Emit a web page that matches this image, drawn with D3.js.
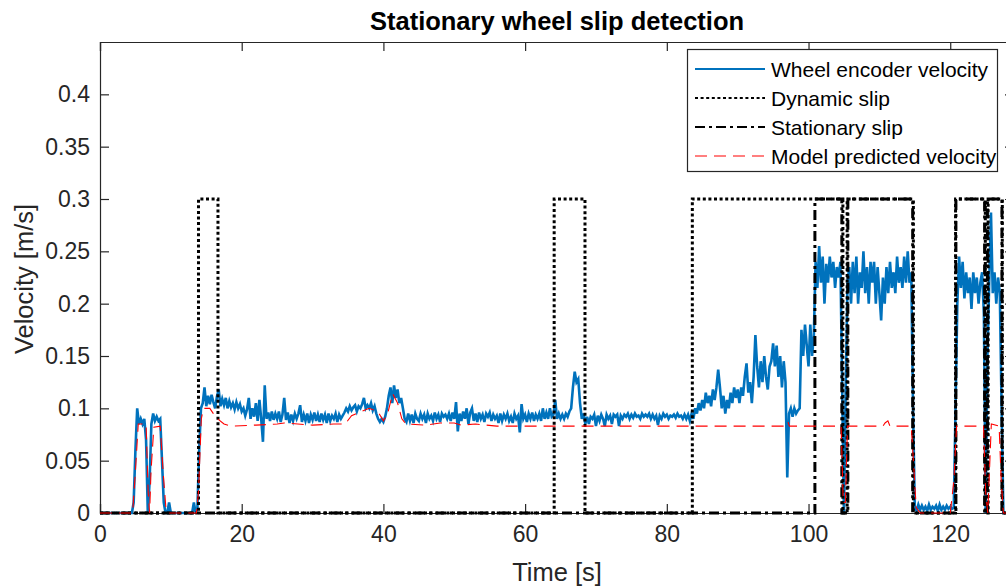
<!DOCTYPE html>
<html><head><meta charset="utf-8">
<script src="https://d3js.org/d3.v7.min.js"></script>
<style>
html,body{margin:0;padding:0;background:#fff;overflow:hidden}
text{font-family:"Liberation Sans",Arial,Helvetica,sans-serif;fill:#262626}
</style></head><body>
<svg id="chart" width="1006" height="586"></svg>
<script>
// ---------- data ----------
const title = "Stationary wheel slip detection";
const xLabel = "Time [s]";
const yLabel = "Velocity [m/s]";
const xTicks = [0, 20, 40, 60, 80, 100, 120];
const xTickLabels = ["0", "20", "40", "60", "80", "100", "120"];
const yTicks = [0, 0.05, 0.1, 0.15, 0.2, 0.25, 0.3, 0.35, 0.4];
const yTickLabels = ["0", "0.05", "0.1", "0.15", "0.2", "0.25", "0.3", "0.35", "0.4"];
const seriesNames = ["Wheel encoder velocity", "Dynamic slip", "Stationary slip", "Model predicted velocity"];

// wheel encoder velocity, sampled every 0.25 s from t = 0
const wheelStart = 0, wheelStep = 0.25;
const wheelVelocity = [
0,0,0,0, 0,0,0,0, 0,0,0,0, 0,0,0,0, 0,0,0,0.01,
0.06,0.1,0.085,0.09, 0.085,0.09,0.07,0.0, 0.03,0.085,0.095,0.088, 0.092,0.088,0.09,0.05, 0.01,0,0,0.01,
0,0,0,0, 0,0,0,0, 0,0,0,0, 0,0.01,0,0.005, 0.06,0.1,0.105,0.12,
0.102,0.112,0.104,0.113, 0.106,0.1,0.111,0.118, 0.102,0.109,0.103,0.11, 0.1,0.107,0.101,0.105, 0.099,0.106,0.1,0.104,
0.097,0.1,0.093,0.099, 0.11,0.09,0.1,0.092, 0.105,0.088,0.108,0.09, 0.068,0.122,0.09,0.096, 0.088,0.097,0.089,0.095,
0.09,0.097,0.087,0.094, 0.11,0.089,0.096,0.086, 0.094,0.088,0.095,0.09, 0.095,0.103,0.087,0.094, 0.088,0.095,0.086,0.094,
0.089,0.096,0.088,0.094, 0.087,0.095,0.089,0.094, 0.086,0.095,0.088,0.093, 0.09,0.095,0.087,0.094, 0.09,0.093,0.096,0.1,
0.097,0.102,0.098,0.101, 0.103,0.097,0.102,0.1, 0.104,0.11,0.1,0.103, 0.1,0.105,0.098,0.102, 0.095,0.09,0.087,0.09,
0.087,0.092,0.1,0.112, 0.12,0.105,0.122,0.11, 0.118,0.105,0.11,0.1, 0.09,0.087,0.095,0.088, 0.094,0.086,0.095,0.09,
0.088,0.095,0.09,0.094, 0.086,0.095,0.09,0.093, 0.088,0.096,0.09,0.094, 0.087,0.095,0.092,0.094, 0.09,0.095,0.088,0.096,
0.09,0.106,0.078,0.095, 0.088,0.097,0.09,0.1, 0.085,0.096,0.1,0.088, 0.095,0.087,0.096,0.09, 0.094,0.087,0.095,0.092,
0.096,0.088,0.094,0.09, 0.093,0.086,0.095,0.088, 0.094,0.09,0.095,0.088, 0.092,0.086,0.095,0.09, 0.093,0.077,0.104,0.09,
0.094,0.087,0.095,0.09, 0.096,0.088,0.094,0.09, 0.095,0.088,0.1,0.09, 0.096,0.09,0.1,0.092, 0.094,0.108,0.09,0.095,
0.09,0.094,0.09,0.095, 0.092,0.097,0.1,0.12, 0.135,0.125,0.128,0.105, 0.09,0.095,0.085,0.092, 0.085,0.092,0.09,0.094,
0.083,0.093,0.088,0.094, 0.09,0.083,0.094,0.09, 0.093,0.085,0.094,0.092, 0.094,0.083,0.093,0.09, 0.094,0.092,0.095,0.09,
0.094,0.091,0.095,0.092, 0.093,0.09,0.095,0.092, 0.094,0.092,0.095,0.09, 0.094,0.09,0.093,0.084, 0.093,0.09,0.095,0.092,
0.094,0.09,0.093,0.092, 0.094,0.091,0.095,0.092, 0.093,0.09,0.094,0.09, 0.094,0.088,0.095,0.09, 0.1,0.095,0.105,0.098,
0.108,0.1,0.115,0.105, 0.112,0.102,0.118,0.108, 0.12,0.137,0.12,0.1, 0.112,0.095,0.108,0.1, 0.115,0.105,0.12,0.11,
0.118,0.105,0.12,0.112, 0.13,0.143,0.115,0.125, 0.105,0.13,0.17,0.14, 0.12,0.145,0.125,0.15, 0.13,0.118,0.14,0.145,
0.162,0.14,0.16,0.13, 0.15,0.12,0.145,0.125, 0.034,0.095,0.1,0.092, 0.1,0.095,0.098,0.1, 0.175,0.15,0.18,0.16,
0.14,0.18,0.15,0.17, 0.24,0.215,0.255,0.22, 0.245,0.2,0.238,0.22, 0.245,0.225,0.24,0.215, 0.235,0.225,0.24,0.12,
0.0,0.12,0.22,0.235, 0.2,0.24,0.21,0.245, 0.2,0.23,0.215,0.25, 0.21,0.235,0.2,0.24, 0.22,0.24,0.2,0.235,
0.21,0.184,0.225,0.2, 0.235,0.21,0.24,0.215, 0.23,0.21,0.245,0.22, 0.235,0.215,0.245,0.22, 0.25,0.22,0.23,0.1,
0.005,0.002,0.008,0.003, 0.007,0.003,0.006,0.002, 0.008,0.003,0.006,0.004, 0.007,0.002,0.008,0.003, 0.006,0.003,0.007,0.004,
0.006,0.004,0.005,0.1, 0.2,0.245,0.215,0.24, 0.205,0.23,0.21,0.225, 0.195,0.23,0.21,0.225, 0.2,0.22,0.23,0.19,
0.0,0.15,0.22,0.287, 0.21,0.23,0.2,0.225, 0.21,0.1,0.0,0.0, 0
];

// dynamic slip flag (step signal), [time, value]
const dynamicSlip = [
[0,0],[13.9,0],[13.9,0.3],[16.65,0.3],[16.65,0],[64.1,0],[64.1,0.3],[68.45,0.3],[68.45,0],
[83.6,0],[83.6,0.3],[104.85,0.3],[104.85,0],[105.45,0],[105.45,0.3],[114.8,0.3],[114.8,0],
[120.75,0],[120.75,0.3],[124.95,0.3],[124.95,0],[125.35,0],[125.35,0.3],[127.35,0.3],[127.35,0],[129,0]
];

// stationary slip flag (step signal), [time, value]
const stationarySlip = [
[0,0],[100.9,0],[100.9,0.3],[104.7,0.3],[104.7,0],[105.55,0],[105.55,0.3],[114.7,0.3],[114.7,0],
[120.8,0],[120.8,0.3],[124.85,0.3],[124.85,0],[125.25,0],[125.25,0.3],[127.3,0.3],[127.3,0],[129,0]
];

// model predicted velocity, [time, value]
const modelVelocity = [
[0,0],[4.6,0],[5.0,0.04],[5.4,0.085],[6.5,0.085],[6.8,0.02],[7.0,0],[7.2,0.04],[7.6,0.082],[8.5,0.083],
[8.9,0.04],[9.3,0.005],[9.8,0],[13.6,0],[13.9,0.02],[14.3,0.09],[14.6,0.1],[15.5,0.1],[16.0,0.095],[16.6,0.09],
[17.5,0.085],[18.5,0.083],[22,0.084],[25,0.085],[26,0.086],[30,0.084],[33,0.085],[34.6,0.085],[35.5,0.093],
[36.5,0.096],[38,0.1],[39.2,0.097],[40,0.088],[40.6,0.095],[41.3,0.114],[42,0.105],[42.6,0.09],[43.2,0.085],
[46,0.084],[48,0.086],[50,0.086],[51,0.084],[53,0.085],[56,0.083],[60,0.083],[96.8,0.083],[97.1,0.087],
[97.3,0.083],[104.6,0.083],[104.9,0.01],[105.2,0.01],[105.5,0.083],[110.5,0.083],[110.8,0.086],[111.2,0.088],
[111.5,0.083],[114.5,0.083],[114.8,0.05],[115.2,0.005],[115.8,0],[120,0],[120.5,0.03],[120.9,0.083],
[124.7,0.083],[125.0,0.02],[125.3,0],[125.8,0.085],[126.9,0.083],[127.2,0.03],[127.5,0],[129,0]
];

// ---------- chart ----------
const margin = {left: 100, top: 42, right: 1014, bottom: 513};
const svg = d3.select("#chart");
const x = d3.scaleLinear().domain([0, 129]).range([margin.left, margin.right]);
const y = d3.scaleLinear().domain([0, 0.45]).range([margin.bottom, margin.top]);
const axisColor = "#262626";

// axes box and ticks
const gx = svg.append("g").attr("transform", `translate(0,${margin.bottom})`)
  .call(d3.axisBottom(x).tickValues(xTicks).tickFormat((d,i)=>xTickLabels[i]).tickSize(-9).tickPadding(13));
const gxTop = svg.append("g").attr("transform", `translate(0,${margin.top})`)
  .call(d3.axisTop(x).tickValues(xTicks).tickFormat("").tickSize(-9));
const gy = svg.append("g").attr("transform", `translate(${margin.left},0)`)
  .call(d3.axisLeft(y).tickValues(yTicks).tickFormat((d,i)=>yTickLabels[i]).tickSize(-9).tickPadding(10));
const gyR = svg.append("g").attr("transform", `translate(${margin.right},0)`)
  .call(d3.axisRight(y).tickValues(yTicks).tickFormat("").tickSize(-9));
[gx, gxTop, gy, gyR].forEach(g => {
  g.selectAll("path.domain").attr("stroke", axisColor).attr("stroke-width", 1.2);
  g.selectAll(".tick line").attr("stroke", axisColor).attr("stroke-width", 1.2);
  g.selectAll(".tick text").style("font-size", "23px").style("fill", axisColor);
});

// clip
svg.append("defs").append("clipPath").attr("id", "clip")
  .append("rect").attr("x", margin.left).attr("y", margin.top - 3)
  .attr("width", margin.right - margin.left).attr("height", margin.bottom - margin.top + 6);

const plot = svg.append("g").attr("clip-path", "url(#clip)");
const line = d3.line().x(d => x(d[0])).y(d => y(d[1]));

const wheelData = wheelVelocity.map((v, i) => [wheelStart + i * wheelStep, v]);

const styles = [
  {stroke: "#0072BD", width: 2.6, dash: null},
  {stroke: "#000000", width: 3, dash: "3,2.6"},
  {stroke: "#000000", width: 3, dash: "10,4,3,4"},
  {stroke: "#FF0000", width: 1.1, dash: "12,7"}
];
const allSeries = [wheelData, dynamicSlip, stationarySlip, modelVelocity];

allSeries.forEach((data, i) => {
  const s = styles[i];
  plot.append("path").datum(data).attr("d", line)
    .attr("fill", "none").attr("stroke", s.stroke).attr("stroke-width", s.width)
    .attr("stroke-dasharray", s.dash).attr("stroke-linejoin", "miter");
});

// title and labels
svg.append("text").attr("x", 557).attr("y", 30).attr("text-anchor", "middle")
  .style("font-size", "25.5px").style("font-weight", "bold").style("fill", "#000").text(title);
svg.append("text").attr("x", 557).attr("y", 581).attr("text-anchor", "middle")
  .style("font-size", "25.5px").text(xLabel);
svg.append("text").attr("transform", "translate(33,279) rotate(-90)").attr("text-anchor", "middle")
  .style("font-size", "25.5px").text(yLabel);

// legend
const lg = svg.append("g");
lg.append("rect").attr("x", 687.5).attr("y", 49.5).attr("width", 310).attr("height", 122)
  .attr("fill", "#fff").attr("stroke", axisColor).attr("stroke-width", 1.2);
seriesNames.forEach((name, i) => {
  const yy = 69 + i * 29;
  const s = styles[i];
  lg.append("line").attr("x1", 695).attr("x2", 765).attr("y1", yy).attr("y2", yy)
    .attr("stroke", s.stroke).attr("stroke-width", Math.min(s.width, 2.2)).attr("stroke-dasharray", s.dash);
  lg.append("text").attr("x", 771).attr("y", yy + 7.5).style("font-size", "21px").style("fill", "#000").text(name);
});
</script>
</body></html>
